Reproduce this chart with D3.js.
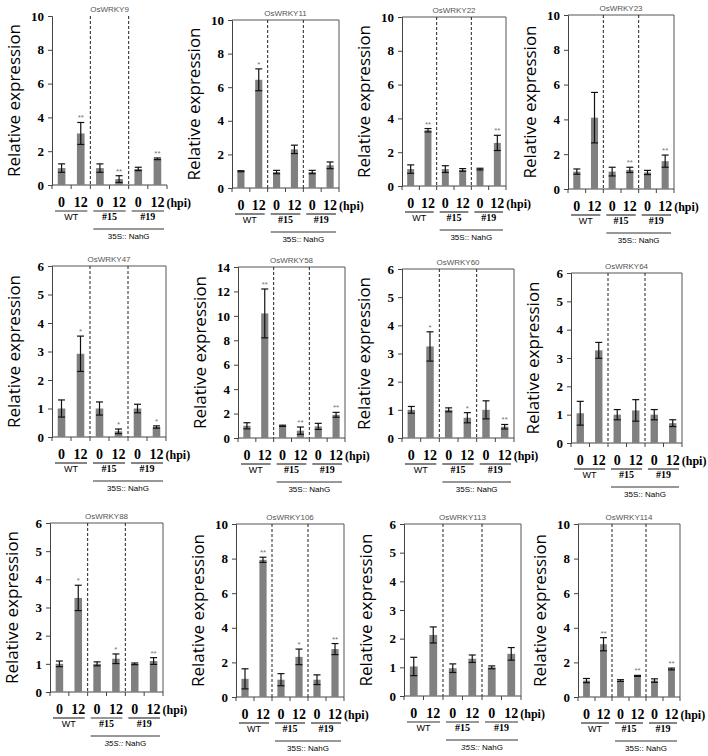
<!DOCTYPE html>
<meta charset="utf-8">
<style>
body { margin: 0; background: #fff; }
svg { display: block; }
</style>
<body>
<svg id="fig" width="708" height="756"></svg>
<script src="https://d3js.org/d3.v7.min.js"></script>
<script>
// genes, one panel each
var genes = ["OsWRKY9", "OsWRKY11", "OsWRKY22", "OsWRKY23",
             "OsWRKY47", "OsWRKY58", "OsWRKY60", "OsWRKY64",
             "OsWRKY88", "OsWRKY106", "OsWRKY113", "OsWRKY114"];
var hpiLabels = ["0", "12", "0", "12", "0", "12"];
var lines = ["WT", "#15", "#19"];
var yMax = [10, 10, 10, 10, 6, 14, 6, 6, 6, 10, 6, 10];
var yStep = [2, 2, 2, 2, 1, 2, 1, 1, 1, 2, 1, 2];

// relative expression (WT 0, WT 12, #15 0, #15 12, #19 0, #19 12)
var means = [
  [1.0, 3.05, 1.0, 0.35, 0.95, 1.55],
  [1.0, 6.44, 0.95, 2.3, 0.95, 1.35],
  [1.0, 3.3, 1.0, 0.95, 1.0, 2.55],
  [1.0, 4.1, 1.0, 1.1, 0.95, 1.6],
  [1.0, 2.92, 1.0, 0.2, 1.0, 0.35],
  [1.0, 10.2, 1.0, 0.6, 0.95, 1.9],
  [1.0, 3.25, 1.0, 0.72, 1.0, 0.4],
  [1.05, 3.27, 1.0, 1.15, 1.0, 0.7],
  [1.0, 3.34, 1.0, 1.18, 1.0, 1.1],
  [1.05, 7.93, 1.0, 2.32, 1.0, 2.77],
  [1.03, 2.13, 0.97, 1.3, 1.0, 1.47],
  [0.95, 3.05, 0.95, 1.22, 0.95, 1.62]
];
var errors = [
  [0.25, 0.65, 0.25, 0.2, 0.1, 0.05],
  [0.03, 0.65, 0.1, 0.25, 0.1, 0.2],
  [0.25, 0.1, 0.2, 0.08, 0.05, 0.45],
  [0.15, 1.45, 0.25, 0.15, 0.12, 0.35],
  [0.3, 0.62, 0.23, 0.08, 0.15, 0.04],
  [0.25, 2.0, 0.05, 0.3, 0.25, 0.2],
  [0.12, 0.52, 0.07, 0.18, 0.32, 0.08],
  [0.42, 0.28, 0.18, 0.38, 0.18, 0.12],
  [0.1, 0.45, 0.07, 0.17, 0.03, 0.12],
  [0.58, 0.15, 0.35, 0.45, 0.28, 0.32],
  [0.32, 0.28, 0.15, 0.13, 0.05, 0.22],
  [0.12, 0.38, 0.05, 0.03, 0.1, 0.05]
];
var stars = [
  ["", "**", "", "**", "", "**"],
  ["", "*", "", "", "", ""],
  ["", "**", "", "", "", "**"],
  ["", "", "", "**", "", "**"],
  ["", "*", "", "*", "", "*"],
  ["", "**", "", "**", "", "**"],
  ["", "*", "", "*", "", "**"],
  ["", "", "", "", "", ""],
  ["", "*", "", "*", "", "**"],
  ["", "**", "", "*", "", "**"],
  ["", "", "", "", "", ""],
  ["", "**", "", "**", "", "**"]
];

// panel placement: left, top, width, height of plot area
var layout = [
  [52, 16, 115, 169], [232, 20, 107, 168], [402, 17, 104, 169], [568, 15, 106, 174],
  [52, 266, 114, 171], [238, 267, 107, 171], [402, 269, 112, 169], [571, 273, 111, 170],
  [50, 523, 113, 169], [236, 524, 108, 173], [404, 524, 117, 172], [578, 524, 102, 173]
];
var italic35S = [false, false, false, false, false, false, false, false, true, false, true, false];

var serif = "'Liberation Serif', 'Times New Roman', serif";
var sans = "'Liberation Sans', Arial, sans-serif";

var svg = d3.select("#fig");

genes.forEach(function(gene, p) {
  var L = layout[p], w = L[2], h = L[3];
  var g = svg.append("g").attr("transform", "translate(" + L[0] + "," + L[1] + ")");

  var x = d3.scaleBand().domain(d3.range(6)).range([0, w]);
  var y = d3.scaleLinear().domain([0, yMax[p]]).range([h, 0]);
  var bw = x.bandwidth();

  // frame (top, right)
  if (p !== 0) {
    g.append("path").attr("d", "M0,0H" + w + "V" + h)
      .attr("fill", "none").attr("stroke", "#555").attr("stroke-width", 1);
  }

  // dashed separators
  [2, 4].forEach(function(i) {
    g.append("line").attr("x1", x(i)).attr("x2", x(i)).attr("y1", 0).attr("y2", h)
      .attr("stroke", "#222").attr("stroke-dasharray", "3,2");
  });

  // y axis
  var ya = g.append("g").call(d3.axisLeft(y)
    .tickValues(d3.range(0, yMax[p] + 0.001, yStep[p]))
    .tickFormat(d3.format("d"))
    .tickSize(4).tickPadding(4));
  ya.attr("font-family", serif).attr("font-size", 13).attr("font-weight", "bold");
  ya.selectAll("text").attr("fill", "#000");
  ya.select(".domain").attr("stroke", "#444");
  ya.selectAll(".tick line").attr("stroke", "#444");

  // x axis line with band ticks
  g.append("line").attr("x1", 0).attr("x2", w).attr("y1", h).attr("y2", h).attr("stroke", "#444");
  d3.range(7).forEach(function(i) {
    var xx = i < 6 ? x(i) : w;
    g.append("line").attr("x1", xx).attr("x2", xx).attr("y1", h).attr("y2", h + 4).attr("stroke", "#444");
  });

  // bars
  g.selectAll("rect.bar").data(means[p]).enter().append("rect")
    .attr("class", "bar")
    .attr("x", function(d, i) { return x(i) + bw * 0.3; })
    .attr("width", bw * 0.4)
    .attr("y", function(d) { return y(d); })
    .attr("height", function(d) { return h - y(d); })
    .attr("fill", "#808080");

  // error bars
  means[p].forEach(function(m, i) {
    var e = errors[p][i], cx = x(i) + bw / 2;
    var eb = g.append("g").attr("stroke", "#111").attr("stroke-width", 1.2);
    eb.append("line").attr("x1", cx).attr("x2", cx).attr("y1", y(m - e)).attr("y2", y(m + e));
    eb.append("line").attr("x1", cx - 3.5).attr("x2", cx + 3.5).attr("y1", y(m - e)).attr("y2", y(m - e));
    eb.append("line").attr("x1", cx - 3.5).attr("x2", cx + 3.5).attr("y1", y(m + e)).attr("y2", y(m + e));
    if (stars[p][i]) {
      g.append("text").attr("x", cx).attr("y", y(m + e) - 2)
        .attr("font-family", sans).attr("font-size", 8).attr("fill", "#777")
        .attr("text-anchor", "middle").text(stars[p][i]);
    }
  });

  // title
  g.append("text").attr("x", w / 2).attr("y", -4)
    .attr("font-family", sans).attr("font-size", 8).attr("fill", "#555")
    .attr("text-anchor", "middle").text(gene);

  // y label
  g.append("text")
    .attr("transform", "translate(-38," + (h / 2) + ") rotate(-90)")
    .attr("dy", "0.35em")
    .attr("font-family", "'Open Sans', sans-serif").attr("font-size", 17)
    .attr("text-anchor", "middle").text("Relative expression");

  // hpi labels
  hpiLabels.forEach(function(t, i) {
    g.append("text").attr("x", x(i) + bw / 2).attr("y", h + 22)
      .attr("font-family", serif).attr("font-size", 14).attr("font-weight", "bold")
      .attr("text-anchor", "middle").text(t);
  });
  g.append("text").attr("x", x(5) + bw / 2 + 9).attr("y", h + 22)
    .attr("font-family", serif).attr("font-size", 12).attr("font-weight", "bold")
    .text("(hpi)");

  // group underlines and names
  lines.forEach(function(t, k) {
    var x0 = x(2 * k) + 3, x1 = (k < 2 ? x(2 * k + 2) : w) - 3;
    g.append("line").attr("x1", x0).attr("x2", x1).attr("y1", h + 26).attr("y2", h + 26)
      .attr("stroke", "#333").attr("stroke-width", 1.2);
    g.append("text").attr("x", (x0 + x1) / 2).attr("y", h + 35)
      .attr("font-family", k === 0 ? sans : serif).attr("font-size", k === 0 ? 9 : 10)
      .attr("font-weight", k === 0 ? "normal" : "bold")
      .attr("text-anchor", "middle").text(t);
  });

  // 35S::NahG bracket
  var s0 = x(2) + 3, s1 = w - 3;
  g.append("line").attr("x1", s0).attr("x2", s1).attr("y1", h + 44).attr("y2", h + 44)
    .attr("stroke", "#333").attr("stroke-width", 1.2);
  var st = g.append("text").attr("x", (s0 + s1) / 2).attr("y", h + 54)
    .attr("font-family", sans).attr("font-size", 8)
    .attr("text-anchor", "middle");
  st.append("tspan").style("font-style", italic35S[p] ? "italic" : "normal").text("35S::");
  st.append("tspan").text(" NahG");
});
</script>
</body>
